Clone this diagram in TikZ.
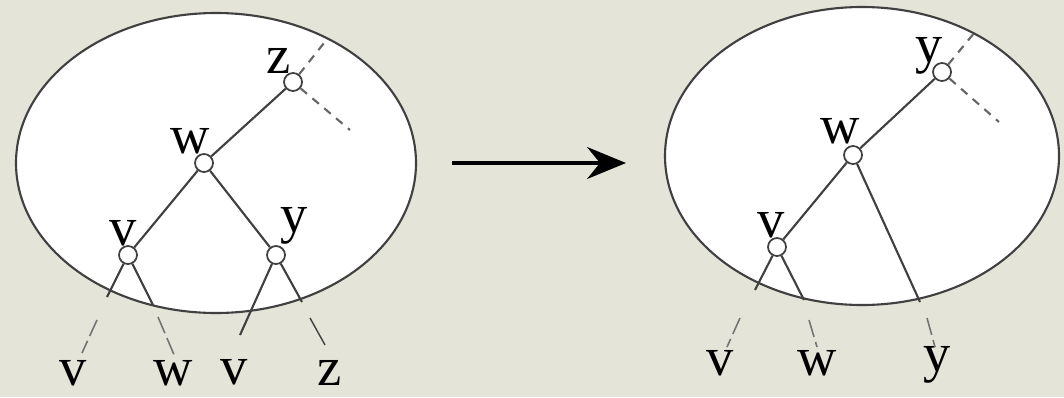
\documentclass[tikz,border=0pt]{standalone}
\usepackage{fontspec}
\setmainfont{Liberation Serif}
\usetikzlibrary{arrows.meta}
\definecolor{paper}{RGB}{228,228,216}

\begin{document}
\begin{tikzpicture}[x=0.01cm, y=-0.01cm,
  vert/.style={circle, draw=black!75, line width=0.5pt, fill=white, inner sep=0pt, minimum size=0.18cm},
  tag/.style={font=\fontsize{15.5}{18}\selectfont, inner sep=0pt},
  edge/.style={black!75, line width=0.6pt},
  stub/.style={black!60, line width=0.6pt, dash pattern=on 2.4pt off 2pt},
  leafstub/.style={black!55, line width=0.45pt, dash pattern=on 5pt off 1.5pt}]
  % Background
  \fill[paper] (0,0) rectangle (1064,397);
  \useasboundingbox (0,0) rectangle (1064,397);
  % Ellipses
  \draw[black!75, line width=0.6pt, fill=white] (216,163) ellipse [x radius=200, y radius=150];
  \draw[black!75, line width=0.6pt, fill=white] (862,156) ellipse [x radius=197, y radius=149];
  % Arrow
  \coordinate (arrS) at (452,163);
  \coordinate (arrE) at (626,163);
  \draw[line width=1.3pt, -{Stealth[length=11pt, width=9pt]}] (arrS) -- (arrE);

  % Left tree
  \node[vert] (lz) at (293,82) {};
  \node[vert] (lw) at (204,163) {};
  \node[vert] (lv) at (128,255) {};
  \node[vert] (ly) at (276,255) {};
  \node[tag] (lzt) at (279,61) {z};
  \node[tag] (lwt) at (190,141) {w};
  \node[tag] (lvt) at (123,233) {v};
  \node[tag] (lyt) at (294,226) {y};
  \draw[edge] (lz) -- (lw);
  \draw[edge] (lw) -- (lv);
  \draw[edge] (lw) -- (ly);
  \coordinate (lzu) at (328,38);
  \coordinate (lzd) at (350,130);
  \draw[stub] (lz) -- (lzu);
  \draw[stub] (lz) -- (lzd);
  % Left leaves
  \node[tag] (la) at (73,373) {v};
  \node[tag] (lb) at (173,373) {w};
  \node[tag] (lc) at (234,372) {v};
  \node[tag] (ld) at (330,373) {z};
  \coordinate (la1) at (107,297); \coordinate (la2) at (97,320); \coordinate (la3) at (82,353);
  \coordinate (lb1) at (153,305); \coordinate (lb2) at (158,317); \coordinate (lb3) at (175,357);
  \coordinate (lc1) at (240,335);
  \coordinate (ld1) at (302,302); \coordinate (ld2) at (310,318); \coordinate (ld3) at (325,345);
  \draw[edge] (lv) -- (la1);
  \draw[edge] (lv) -- (lb1);
  \draw[edge] (ly) -- (lc1);
  \draw[edge] (ly) -- (ld1);
  \foreach \p in {la,lb}
    \draw[leafstub] (\p2) -- (\p3);
  \draw[edge, line width=0.4pt] (ld2) -- (ld3);

  % Right tree
  \node[vert] (ry) at (942,72) {};
  \node[vert] (rw) at (853,155) {};
  \node[vert] (rv) at (777,247) {};
  \node[tag] (ryt) at (929,56) {y};
  \node[tag] (rwt) at (840,131) {w};
  \node[tag] (rvt) at (771,225) {v};
  \draw[edge] (ry) -- (rw);
  \draw[edge] (rw) -- (rv);
  \coordinate (ryu) at (975,32);
  \coordinate (ryd) at (999,122);
  \draw[stub] (ry) -- (ryu);
  \draw[stub] (ry) -- (ryd);
  % Right leaves
  \node[tag] (ra) at (720,363) {v};
  \node[tag] (rb) at (817,363) {w};
  \node[tag] (rc) at (937,365) {y};
  \coordinate (ra1) at (755,290); \coordinate (ra2) at (740,318); \coordinate (ra3) at (727,347);
  \coordinate (rb1) at (804,300); \coordinate (rb2) at (809,320); \coordinate (rb3) at (817,347);
  \coordinate (rc1) at (920,302); \coordinate (rc2) at (927,318); \coordinate (rc3) at (935,347);
  \draw[edge] (rv) -- (ra1);
  \draw[edge] (rv) -- (rb1);
  \draw[edge] (rw) -- (rc1);
  \foreach \p in {ra,rb,rc}
    \draw[leafstub] (\p2) -- (\p3);
\end{tikzpicture}
\end{document}
